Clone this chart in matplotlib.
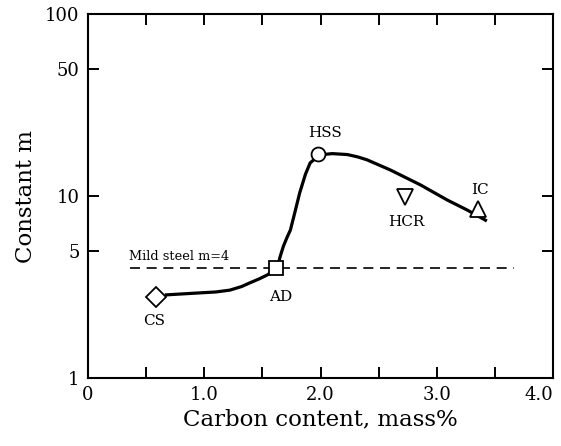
import matplotlib
matplotlib.use("Agg")
import matplotlib.pyplot as plt
import numpy as np

plt.rcParams['font.family'] = ['DejaVu Serif']

# curve
curve_x = [0.66, 0.94, 1.10, 1.22, 1.32, 1.39, 1.47, 1.54, 1.59, 1.63, 1.65, 1.68, 1.71,
           1.74, 1.78, 1.82, 1.87, 1.91, 1.97, 2.02, 2.10, 2.23, 2.32, 2.40, 2.60,
           2.86, 3.09, 3.26, 3.43]
curve_y = [2.86, 2.93, 2.97, 3.04, 3.18, 3.33, 3.50, 3.68, 3.86, 4.07, 4.60, 5.30, 5.90,
           6.50, 8.2, 10.4, 13.2, 15.2, 16.4, 16.9, 17.1, 16.9, 16.4, 15.8, 13.9,
           11.5, 9.5, 8.38, 7.29]

# steels
names = ['CS', 'AD', 'HSS', 'HCR', 'IC']
pt_x = [0.585, 1.62, 1.98, 2.73, 3.35]
pt_y = [2.79, 4.0, 17.0, 9.9, 8.5]
markers = ['D', 's', 'o', 'v', '^']
label_x = [0.57, 1.66, 2.04, 2.74, 3.37]
label_y = [2.06, 2.79, 22.2, 7.2, 10.8]

mild_x = [0.36, 3.66]
mild_m = 4

fig = plt.figure(figsize=(5.61, 4.46), dpi=100)
ax = fig.add_axes([0.157, 0.1525, 0.829, 0.816])

ax.plot(curve_x, curve_y, 'k-', lw=2.3, solid_capstyle='butt', zorder=2)
ax.plot(mild_x, [mild_m, mild_m], 'k--', lw=1.2, dashes=(6, 4), zorder=1)
ax.text(0.35, 4.68, 'Mild steel m=4', fontsize=9.3, va='center', ha='left')

for i in range(len(names)):
    ms = 10 if markers[i] in ('D', 's', 'o') else 11
    ax.plot(pt_x[i], pt_y[i], marker=markers[i], ms=ms, mfc='white', mec='k',
            mew=1.3, ls='none', zorder=3)
    ax.text(label_x[i], label_y[i], names[i], fontsize=11, ha='center', va='center')

ax.set_yscale('log')
ax.set_xlim(0, 4.0)
ax.set_ylim(1, 100)
ax.set_yticks([1, 5, 10, 50, 100])
ax.set_yticklabels(['1', '5', '10', '50', '100'])
ax.yaxis.set_minor_locator(matplotlib.ticker.NullLocator())
ax.set_xticks([0, 1, 2, 3, 4])
ax.set_xticklabels(['0', '1.0', '2.0', '3.0', '4.0'])
ax.set_xticks([0.5, 1.5, 2.5, 3.5], minor=True)

ax.tick_params(which='both', direction='in', top=True, right=True, length=8,
               width=1.4, labelsize=13, pad=6)
ax.get_xticklabels()[-1].set_horizontalalignment('right')
for s in ax.spines.values():
    s.set_linewidth(1.5)

ax.set_xlabel('Carbon content, mass%', fontsize=16.5, labelpad=3)
ax.set_ylabel('Constant m', fontsize=16.5, labelpad=6)

fig.savefig('out.png', dpi=100)
